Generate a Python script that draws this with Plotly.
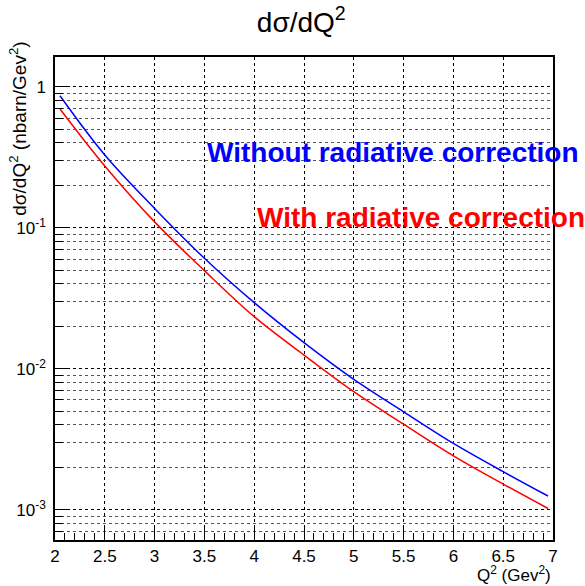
import plotly.graph_objects as go

# Q^2 (Gev^2) y dsigma/dQ^2 (nbarn/Gev^2)
q2 = [2.05, 2.5, 3.0, 3.5, 4.0, 4.5, 5.0, 5.5, 6.0, 6.5, 6.95]
sin_corr = [0.863, 0.328, 0.137, 0.0607, 0.0294, 0.0153, 0.0084, 0.00495, 0.00295, 0.00186, 0.00125]
con_corr = [0.695, 0.274, 0.110, 0.0496, 0.0234, 0.0125, 0.00687, 0.00404, 0.00241, 0.00152, 0.00102]

x_ticks = [2, 2.5, 3, 3.5, 4, 4.5, 5, 5.5, 6, 6.5, 7]
y_ticks = [0.001, 0.01, 0.1, 1]
y_ticktext = ["10<sup>-3</sup>", "10<sup>-2</sup>", "10<sup>-1</sup>", "1"]
# ticks menores del eje log (2..9 por década)
y_minor = [m * d for d in [0.0001, 0.001, 0.01, 0.1, 1] for m in range(2, 10)]

FONT = "Liberation Sans, Arial, sans-serif"
Y_RANGE = [-3.215, 0.211]

fig = go.Figure()
fig.add_trace(go.Scatter(x=q2, y=sin_corr, mode="lines", line=dict(color="#0000ff", width=1.5, shape="spline"),
                         name="Without radiative correction"))
fig.add_trace(go.Scatter(x=q2, y=con_corr, mode="lines", line=dict(color="#ff0000", width=1.5, shape="spline"),
                         name="With radiative correction", yaxis="y2"))

fig.update_layout(
    width=585, height=586,
    margin=dict(l=55, r=32, t=57, b=46),
    paper_bgcolor="white", plot_bgcolor="white",
    showlegend=False,
    font=dict(family=FONT, color="black", size=17),
    title=dict(text="dσ/dQ<sup>2</sup>", xref="container", x=0.515, xanchor="center",
               yref="container", y=0.962, yanchor="middle",
               font=dict(size=28, family=FONT)),
    xaxis=dict(
        range=[2, 7], tickvals=x_ticks, ticktext=[str(v) for v in x_ticks],
        showline=True, linecolor="black", linewidth=1.5, mirror=True,
        ticks="inside", ticklen=14, tickcolor="black",
        showgrid=True, gridcolor="black", griddash="dot", gridwidth=1,
        zeroline=False, automargin=False,
        minor=dict(dtick=0.1, ticks="inside", ticklen=7, tickcolor="black", showgrid=False),
        tickfont=dict(size=17),
    ),
    yaxis=dict(
        type="log", range=Y_RANGE,
        tickvals=y_ticks, ticktext=y_ticktext,
        showline=True, linecolor="black", linewidth=1.5, mirror=True,
        ticks="inside", ticklen=15, tickcolor="black",
        showgrid=True, gridcolor="black", griddash="dot", gridwidth=1,
        zeroline=False, automargin=False,
        tickfont=dict(size=17),
        ticklabelstandoff=4,
    ),
    yaxis2=dict(
        type="log", range=Y_RANGE, overlaying="y", side="left",
        tickvals=y_minor, showticklabels=False,
        ticks="inside", ticklen=8, tickcolor="black",
        showgrid=True, gridcolor="#555555", griddash="dot", gridwidth=1,
        showline=False, zeroline=False, automargin=False,
    ),
)

# títulos de ejes al estilo ROOT (alineados al extremo)
fig.add_annotation(text="dσ/dQ<sup>2</sup> (nbarn/Gev<sup>2</sup>)", textangle=-90,
                   xref="paper", yref="paper", x=-0.075, y=1.035, xanchor="center", yanchor="top",
                   showarrow=False, font=dict(size=19, family=FONT))
fig.add_annotation(text="Q<sup>2</sup> (Gev<sup>2</sup>)",
                   xref="paper", yref="paper", x=1.0, y=-0.07, xanchor="right", yanchor="middle",
                   showarrow=False, font=dict(size=17, family=FONT))

# etiquetas de las curvas
fig.add_annotation(text="<b>Without radiative correction</b>", xref="paper", yref="paper",
                   x=0.301, y=0.803, xanchor="left", yanchor="middle", showarrow=False,
                   font=dict(size=28, color="#0000ff", family=FONT))
fig.add_annotation(text="<b>With radiative correction</b>", xref="paper", yref="paper",
                   x=0.402, y=0.667, xanchor="left", yanchor="middle", showarrow=False,
                   font=dict(size=28, color="#ff0000", family=FONT))

# quitar el margen por defecto del <body> y la barra de herramientas
fig.write_html("out.html", config={"displayModeBar": False},
               post_script="document.body.style.margin='0';")
